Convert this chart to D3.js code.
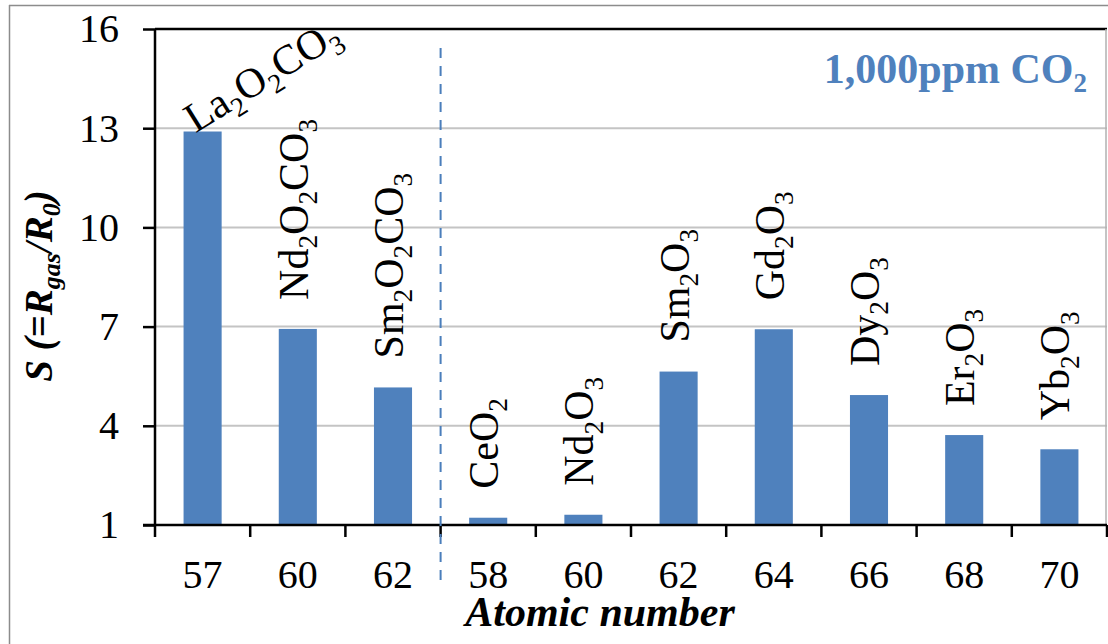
<!DOCTYPE html>
<html>
<head>
<meta charset="utf-8">
<script src="https://cdn.jsdelivr.net/npm/d3@7"></script>
<style>
  html, body { margin: 0; padding: 0; background: #fff; }
  svg { display: block; font-family: "Liberation Serif", "Times New Roman", serif; }
</style>
</head>
<body>
<svg id="chart" width="1108" height="644"></svg>
<script>
// Atomic number of the rare-earth element in each sensing material
const atomicNumbers = ["57", "60", "62", "58", "60", "62", "64", "66", "68", "70"];
// Sensing material; digits are written as subscripts
const materials = ["La2O2CO3", "Nd2O2CO3", "Sm2O2CO3", "CeO2", "Nd2O3", "Sm2O3", "Gd2O3", "Dy2O3", "Er2O3", "Yb2O3"];
// Gas response S = Rgas / R0 at 1,000 ppm CO2
const responses = [12.9, 6.93, 5.16, 1.22, 1.31, 5.64, 6.92, 4.93, 3.72, 3.29];
const yTickValues = [1, 4, 7, 10, 13, 16];
// number of oxycarbonate materials (left group, before the dashed divider)
const oxycarbonateCount = 3;

const barColor = "#4f81bd";
const svg = d3.select("#chart");

const plotLeft = 155, plotRight = 1107, plotTop = 29, plotBottom = 525;

const x = d3.scaleBand()
  .domain(d3.range(atomicNumbers.length))
  .range([plotLeft, plotRight])
  .paddingInner(0.6)
  .paddingOuter(0.3);

const y = d3.scaleLinear().domain([1, 16]).range([plotBottom, plotTop]);

// figure frame (left and top edges)
svg.append("line").attr("x1", 9.5).attr("x2", 9.5).attr("y1", 5).attr("y2", 644)
  .attr("stroke", "#8c8c8c").attr("stroke-width", 1.5);
svg.append("line").attr("x1", 9).attr("x2", 1108).attr("y1", 5.5).attr("y2", 5.5)
  .attr("stroke", "#8c8c8c").attr("stroke-width", 1.5);

// horizontal gridlines
svg.append("g").selectAll("line")
  .data(yTickValues.filter(v => v > 1))
  .join("line")
  .attr("x1", plotLeft).attr("x2", plotRight)
  .attr("y1", d => y(d)).attr("y2", d => y(d))
  .attr("stroke", d => d === 16 ? "#000" : "#c4c4c4")
  .attr("stroke-width", d => d === 16 ? 2.5 : 2);

// right edge of plot area
svg.append("line").attr("x1", plotRight - 1).attr("x2", plotRight - 1)
  .attr("y1", y(16)).attr("y2", y(1))
  .attr("stroke", "#b0b0b0").attr("stroke-width", 1.5);

// bars
svg.append("g").selectAll("rect")
  .data(responses)
  .join("rect")
  .attr("x", (d, i) => x(i))
  .attr("width", x.bandwidth())
  .attr("y", d => y(d))
  .attr("height", d => y(1) - y(d))
  .attr("fill", barColor);

// y axis
const yAxis = svg.append("g")
  .attr("transform", `translate(${plotLeft},0)`)
  .call(d3.axisLeft(y).tickValues(yTickValues).tickSize(12).tickPadding(24).tickFormat(d3.format("d")));
yAxis.select(".domain").attr("stroke", "#000").attr("stroke-width", 2.5)
  .attr("d", `M0,${y(16)}V${y(1)}`);
yAxis.selectAll(".tick line").attr("stroke", "#000").attr("stroke-width", 2.5);
yAxis.selectAll(".tick text").attr("font-size", 40).attr("fill", "#000")
  .attr("font-family", "Liberation Serif, Times New Roman, serif");

// x axis: category labels centred in each band
const xAxis = svg.append("g")
  .attr("transform", `translate(0,${plotBottom})`)
  .call(d3.axisBottom(x).tickSize(0).tickPadding(35).tickFormat(i => atomicNumbers[i]));
xAxis.select(".domain").attr("stroke", "#000").attr("stroke-width", 2.5)
  .attr("d", `M${plotLeft - 12},0H${plotRight}`);
xAxis.selectAll(".tick text").attr("font-size", 40).attr("fill", "#000")
  .attr("font-family", "Liberation Serif, Times New Roman, serif");

// tick marks on the category boundaries
const step = x.step();
const boundaries = d3.range(atomicNumbers.length + 1).map(i => plotLeft + i * step);
svg.append("g").selectAll("line")
  .data(boundaries)
  .join("line")
  .attr("x1", d => d).attr("x2", d => d)
  .attr("y1", plotBottom).attr("y2", plotBottom + 12)
  .attr("stroke", "#000").attr("stroke-width", 2.5);

// dashed divider between oxycarbonates and oxides
svg.append("line")
  .attr("x1", boundaries[oxycarbonateCount]).attr("x2", boundaries[oxycarbonateCount])
  .attr("y1", 48).attr("y2", 584)
  .attr("stroke", "#4a7ebb").attr("stroke-width", 2)
  .attr("stroke-dasharray", "10,8");

// writes a chemical formula with digits as subscripts
function formula(textSel, str, size) {
  const parts = str.match(/\d+|\D+/g);
  let shifted = false;
  parts.forEach(p => {
    const isSub = /\d/.test(p);
    const t = textSel.append("tspan").text(p);
    if (isSub) {
      t.attr("font-size", size * 0.65).attr("dy", shifted ? 0 : size * 0.22);
      shifted = true;
    } else {
      t.attr("font-size", size).attr("dy", shifted ? -size * 0.22 : 0);
      shifted = false;
    }
  });
}

// material labels above the bars
const labelSize = 42;
const labels = svg.append("g");
materials.forEach((m, i) => {
  const cx = x(i) + x.bandwidth() / 2;
  const yt = y(responses[i]);
  let t;
  if (i === 0) {
    t = labels.append("text")
      .attr("transform", `translate(${cx - 7},${yt + 2}) rotate(-32)`);
  } else {
    t = labels.append("text")
      .attr("transform", `translate(${cx + 10},${yt - 29}) rotate(-90)`);
  }
  t.attr("fill", "#000").attr("text-anchor", "start");
  formula(t, m, labelSize);
});

// condition note
const note = svg.append("text")
  .attr("x", 1087).attr("y", 83)
  .attr("text-anchor", "end")
  .attr("fill", barColor)
  .attr("font-weight", "bold");
note.append("tspan").attr("font-size", 42).text("1,000ppm CO");
note.append("tspan").attr("font-size", 27).attr("dy", 9).text("2");

// axis titles
svg.append("text")
  .attr("x", 600).attr("y", 626)
  .attr("text-anchor", "middle")
  .attr("font-size", 42).attr("font-weight", "bold").attr("font-style", "italic")
  .text("Atomic number");

const yTitle = svg.append("text")
  .attr("transform", "translate(52,286) rotate(-90)")
  .attr("text-anchor", "middle")
  .attr("font-weight", "bold").attr("font-style", "italic");
yTitle.append("tspan").attr("font-size", 39).text("S  (=R");
yTitle.append("tspan").attr("font-size", 26).attr("dy", 8).text("gas");
yTitle.append("tspan").attr("font-size", 39).attr("dy", -8).text("/R");
yTitle.append("tspan").attr("font-size", 26).attr("dy", 8).text("0");
yTitle.append("tspan").attr("font-size", 39).attr("dy", -8).text(")");
</script>
</body>
</html>
